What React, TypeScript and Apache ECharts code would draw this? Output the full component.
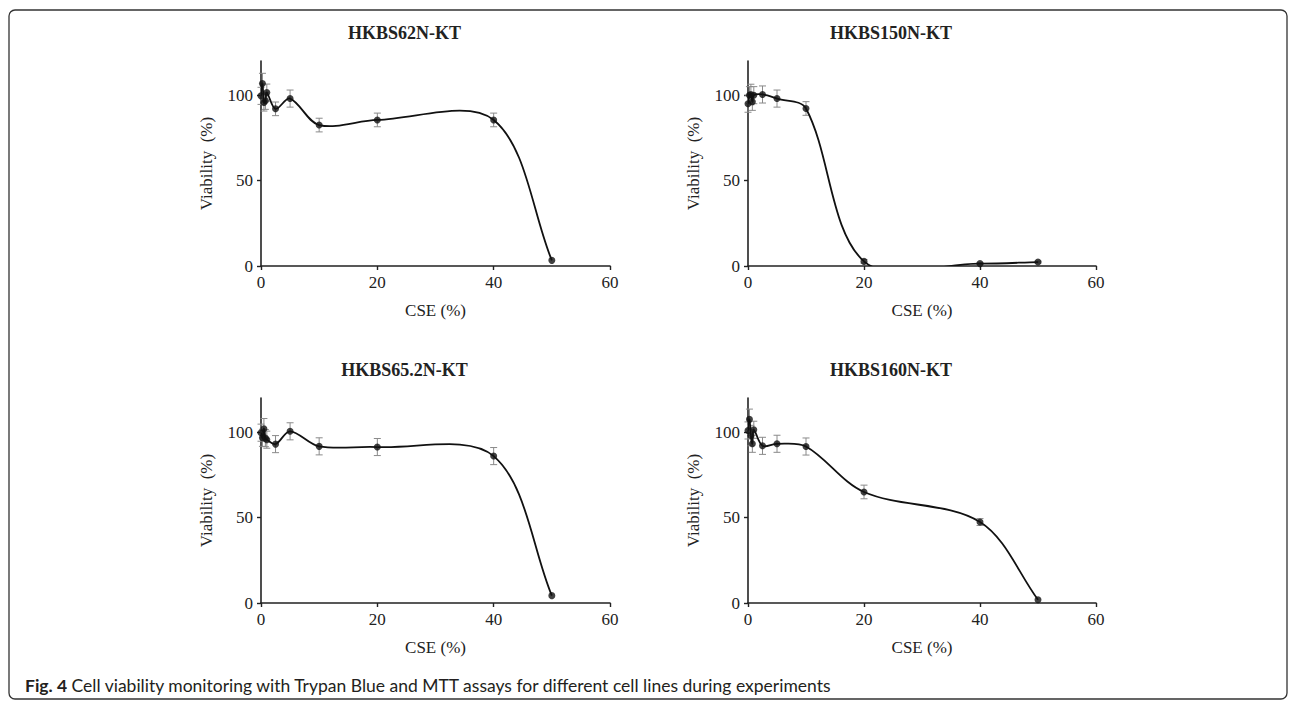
import React, { useEffect, useRef } from "react";
import * as echarts from "echarts";

// ---- data ----
const cse = [0, 0.25, 0.5, 0.75, 1, 2.5, 5, 10, 20, 40, 50];

const titles = ["HKBS62N-KT", "HKBS150N-KT", "HKBS65.2N-KT", "HKBS160N-KT"];

const viab62 = [99.6, 106.8, 95.7, 96.7, 101.5, 92, 98, 82.5, 85.5, 85.5, 3.3];
const err62 = [5, 6, 5, 5, 5, 4, 5, 4, 4, 4, 0];

const viab150 = [95, 100, 100.4, 96.1, 100, 100.4, 98, 92.2, 2.7, 1.4, 2.3];
const err150 = [5, 5, 6, 5, 5, 5, 5, 4, 1, 0.5, 0.5];

const viab652 = [99.7, 96.7, 102, 96.5, 95.6, 93, 100.5, 91.7, 91.3, 86, 4.3];
const err652 = [5, 5, 6, 5, 5, 5, 5, 5, 5, 5, 0];

const viab160 = [101, 107.5, 98, 93.2, 101.4, 92, 93.2, 91.6, 65, 47.4, 1.9];
const err160 = [5, 6, 6, 5, 5, 5, 5, 5, 4, 2, 0];

const xTicks = [0, 20, 40, 60];
const yTicks = [0, 50, 100];

const caption =
  "Cell viability monitoring with Trypan Blue and MTT assays for different cell lines during experiments";

const SERIF = "'Liberation Serif', 'Times New Roman', serif";
const SANS = "Lato, 'Open Sans', sans-serif";

export default function App() {
  const ref = useRef<HTMLDivElement>(null);

  useEffect(() => {
    if (!ref.current) return;
    const chart = echarts.init(ref.current, undefined, { renderer: "svg" });

    const panels = [
      { v: viab62, e: err62, left: 261, top: 61, width: 349 },
      { v: viab150, e: err150, left: 748, top: 61, width: 348 },
      { v: viab652, e: err652, left: 261, top: 398, width: 349 },
      { v: viab160, e: err160, left: 748, top: 398, width: 348 },
    ];
    const gridH = 205;

    const grids: any[] = [];
    const xAxes: any[] = [];
    const yAxes: any[] = [];
    const series: any[] = [];
    const graphics: any[] = [];

    panels.forEach((p, i) => {
      grids.push({ left: p.left, top: p.top, width: p.width, height: gridH, containLabel: false });
      xAxes.push({
        type: "value",
        gridIndex: i,
        min: 0,
        max: 60,
        interval: 20,
        name: "CSE (%)",
        nameLocation: "middle",
        nameGap: 36,
        nameTextStyle: { fontFamily: SERIF, fontSize: 17, color: "#222" },
        axisLine: { show: true, onZero: false, lineStyle: { color: "#222", width: 1.6 } },
        axisTick: { show: true, length: 4, lineStyle: { color: "#222", width: 1.4 }, customValues: xTicks },
        axisLabel: { fontFamily: SERIF, fontSize: 17, color: "#222", margin: 8, customValues: xTicks },
        splitLine: { show: false },
      });
      yAxes.push({
        type: "value",
        gridIndex: i,
        min: 0,
        max: 120,
        interval: 50,
        name: "Viability  (%)",
        nameLocation: "middle",
        nameGap: 46,
        nameRotate: 90,
        nameTextStyle: { fontFamily: SERIF, fontSize: 17, color: "#222" },
        axisLine: { show: true, onZero: false, lineStyle: { color: "#222", width: 1.6 } },
        axisTick: { show: true, length: 4, lineStyle: { color: "#222", width: 1.4 }, customValues: yTicks },
        axisLabel: { fontFamily: SERIF, fontSize: 17, color: "#222", margin: 8, customValues: yTicks },
        splitLine: { show: false },
      });
      const vals = p.v;
      const n = cse.length;
      const pointData = cse.map((x, k) => [x, vals[k]]);
      const errData = cse.map((x, k) => [x, vals[k], p.e[k]]);

      // error bars
      series.push({
        type: "custom",
        xAxisIndex: i,
        yAxisIndex: i,
        z: 1,
        data: errData,
        encode: { x: 0, y: 1 },
        renderItem: (params: any, api: any) => {
          const x = api.value(0);
          const y = api.value(1);
          const e = api.value(2);
          if (!e) return { type: "group", children: [] };
          const t = api.coord([x, y + e]);
          const b = api.coord([x, y - e]);
          const hw = 3.5;
          const st = { stroke: "#8a8a8a", lineWidth: 1 };
          return {
            type: "group",
            children: [
              { type: "line", shape: { x1: t[0], y1: t[1], x2: b[0], y2: b[1] }, style: st },
              { type: "line", shape: { x1: t[0] - hw, y1: t[1], x2: t[0] + hw, y2: t[1] }, style: st },
              { type: "line", shape: { x1: b[0] - hw, y1: b[1], x2: b[0] + hw, y2: b[1] }, style: st },
            ],
          };
        },
      });

      // smoothed connecting curve (chord-weighted Catmull-Rom, like a spreadsheet "smoothed line")
      series.push({
        type: "custom",
        xAxisIndex: i,
        yAxisIndex: i,
        z: 2,
        clip: true,
        data: pointData,
        encode: { x: 0, y: 1 },
        renderItem: (params: any, api: any) => {
          const k = params.dataIndex;
          if (k >= n - 1) return { type: "group", children: [] };
          const pt = (j: number) => api.coord([cse[j], vals[j]]);
          const P0 = pt(Math.max(k - 1, 0));
          const P1 = pt(k);
          const P2 = pt(k + 1);
          const P3 = pt(Math.min(k + 2, n - 1));
          const dist = (a: number[], b: number[]) => Math.hypot(b[0] - a[0], b[1] - a[1]);
          const d01 = dist(P0, P1);
          const d12 = dist(P1, P2);
          const d23 = dist(P2, P3);
          const f1 = d01 + d12 > 0 ? d12 / (d01 + d12) / 3 : 0;
          const f2 = d12 + d23 > 0 ? d12 / (d12 + d23) / 3 : 0;
          return {
            type: "bezierCurve",
            shape: {
              x1: P1[0],
              y1: P1[1],
              x2: P2[0],
              y2: P2[1],
              cpx1: P1[0] + (P2[0] - P0[0]) * f1,
              cpy1: P1[1] + (P2[1] - P0[1]) * f1,
              cpx2: P2[0] - (P3[0] - P1[0]) * f2,
              cpy2: P2[1] - (P3[1] - P1[1]) * f2,
            },
            style: { stroke: "#111", lineWidth: 1.8, fill: "none" },
          };
        },
      });

      // markers
      series.push({
        type: "scatter",
        xAxisIndex: i,
        yAxisIndex: i,
        z: 3,
        data: pointData,
        symbol: "circle",
        symbolSize: 7,
        itemStyle: { color: "#111" },
      });

      graphics.push({
        type: "text",
        x: p.left + p.width / 2 - 31,
        y: p.top - 28,
        style: {
          text: titles[i],
          fontFamily: SERIF,
          fontWeight: "bold",
          fontSize: 18,
          fill: "#222",
          align: "center",
          verticalAlign: "middle",
        },
      });
    });

    graphics.push({
      type: "rect",
      shape: { x: 9, y: 10, width: 1278, height: 689, r: 6 },
      style: { fill: "none", stroke: "#333", lineWidth: 1.3 },
      silent: true,
    });
    graphics.push({
      type: "text",
      x: 25,
      y: 685,
      style: {
        text: "{b|Fig. 4} " + caption,
        verticalAlign: "middle",
        fontFamily: SANS,
        fontSize: 17.5,
        fill: "#231f20",
        rich: {
          b: { fontFamily: SANS, fontSize: 17.5, fontWeight: "bold", fill: "#231f20" },
        },
      },
    });

    chart.setOption({
      animation: false,
      backgroundColor: "#fff",
      grid: grids,
      xAxis: xAxes,
      yAxis: yAxes,
      series,
      graphic: graphics,
    });

    return () => chart.dispose();
  }, []);

  return (
    <div
      ref={ref}
      style={{ position: "fixed", left: 0, top: 0, width: 1290, height: 702, background: "#fff" }}
    />
  );
}
